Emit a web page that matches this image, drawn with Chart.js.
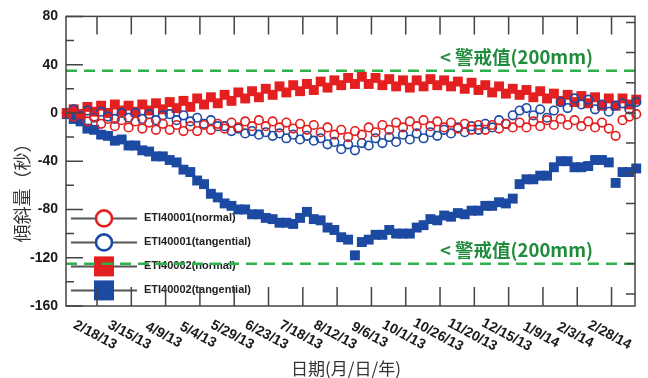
<!DOCTYPE html>
<html>
<head>
<meta charset="utf-8">
<script src="https://cdn.jsdelivr.net/npm/chart.js@4.4.1/dist/chart.umd.min.js"></script>
<style>
  body { margin: 0; background: #fff; }
  #tiltChart { display: block; }
</style>
</head>
<body>
<canvas id="tiltChart" width="648" height="378"></canvas>
<script>
// days counted from 2/18/13
const days = [-22,-17,-12,-7,-2,3,8,13,18,23,28,33,38,43,48,53,58,63,68,73,78,83,88,93,98,103,108,113,118,123,128,133,138,143,148,153,158,163,168,173,178,183,188,193,198,203,208,213,218,223,228,233,238,243,248,253,258,263,268,273,278,283,288,293,298,303,308,313,318,323,328,333,338,343,348,353,358,363,368,373,378,383,388,393];

const eti1Normal = [0,-3,-1,-7,-3,-9,-5,-11,-6,-12,-7,-13,-8,-14,-9,-14,-10,-15,-11,-15,-10,-14,-9,-13,-8,-12,-7,-11,-6,-11,-7,-12,-8,-13,-9,-14,-10,-16,-12,-18,-14,-20,-15,-18,-12,-16,-10,-14,-8,-12,-7,-11,-6,-11,-7,-12,-8,-13,-9,-14,-10,-14,-10,-13,-9,-12,-8,-12,-7,-11,-6,-10,-5,-10,-6,-11,-7,-12,-8,-13,-19,-6,-3,-1];
const eti1Tangential = [0,3,-2,2,-4,1,-3,-5,0,-4,0,-5,-1,-6,-2,-1,-6,-2,-7,-4,-9,-6,-11,-11,-15,-13,-17,-15,-18,-16,-19,-17,-21,-18,-22,-19,-23,-21,-26,-24,-30,-26,-31,-25,-27,-21,-25,-20,-24,-18,-22,-17,-21,-16,-19,-14,-17,-12,-16,-11,-14,-9,-12,-6,-9,-2,2,4,-2,3,-4,2,9,4,12,7,11,3,7,1,6,8,3,9];
const eti2Normal = [0,3,-1,5,1,6,0,7,2,6,1,7,2,8,3,9,4,10,5,12,7,13,8,15,10,17,12,18,13,20,15,22,17,23,18,24,19,26,21,27,23,29,24,30,24,29,23,28,22,27,21,27,22,28,23,27,22,26,20,25,19,23,17,22,16,20,15,19,13,18,12,16,10,15,9,14,8,13,6,12,6,12,7,11];
const eti2Tangential = [-1,-5,-7,-13,-14,-18,-19,-23,-22,-27,-27,-31,-32,-36,-36,-39,-41,-47,-49,-56,-59,-67,-70,-75,-77,-80,-80,-84,-84,-87,-88,-91,-91,-92,-87,-82,-88,-89,-95,-97,-103,-105,-118,-107,-105,-101,-101,-97,-100,-100,-100,-95,-93,-88,-89,-85,-86,-83,-84,-81,-81,-77,-77,-74,-75,-71,-59,-55,-55,-52,-52,-45,-40,-40,-45,-45,-44,-39,-39,-41,-58,-49,-49,-46];

const seriesNames = ['ETI40001(normal)', 'ETI40001(tangential)', 'ETI40002(normal)', 'ETI40002(tangential)'];
const tickDays = [0,25,50,75,100,125,150,175,200,225,250,275,300,325,350,375];
const tickLabels = ['2/18/13','3/15/13','4/9/13','5/4/13','5/29/13','6/23/13','7/18/13','8/12/13','9/6/13','10/1/13','10/26/13','11/20/13','12/15/13','1/9/14','2/3/14','2/28/14'];
const yTicks = [80,40,0,-40,-80,-120,-160];
const yMinorTicks = [60,20,-20,-60,-100,-140];
const rightTicks = [75,50,25,0,-25,-50,-75,-100,-125,-150];
const alarmLevels = [35, -125];
const alarmText = '< 警戒值(200mm)';
const xMin = -22.6, xMax = 392.1;

const RED = '#e41f1f', BLUE = '#1c4aa3', GREEN = '#2fb24c';
const latin = '"Liberation Sans", Arial, sans-serif';
const cjk = '"Noto Sans CJK TC", "Noto Sans CJK SC", sans-serif';

const pts = arr => arr.map((v, i) => ({ x: days[i], y: v }));

const alarmSets = alarmLevels.map(v => ({
  type: 'line', showLine: true, order: 0,
  data: [{ x: xMin, y: v }, { x: xMax, y: v }],
  borderColor: GREEN, borderWidth: 2.5, borderDash: [11, 7], pointRadius: 0
}));

const decor = {
  id: 'decor',
  beforeDatasetsDraw(chart) {
    const { ctx, chartArea: a } = chart;
    ctx.save();
    const styles = [
      { shape: 'circle', color: RED },
      { shape: 'circle', color: BLUE },
      { shape: 'square', color: RED },
      { shape: 'square', color: BLUE }
    ];
    styles.forEach((s, i) => {
      const cy = a.top + 202 + i * 24;
      ctx.strokeStyle = '#555'; ctx.lineWidth = 2;
      ctx.beginPath(); ctx.moveTo(a.left + 5, cy); ctx.lineTo(a.left + 71, cy); ctx.stroke();
      if (s.shape === 'circle') {
        ctx.fillStyle = '#fff';
        ctx.strokeStyle = s.color; ctx.lineWidth = 2.6;
        ctx.beginPath(); ctx.arc(a.left + 38, cy, 8, 0, Math.PI * 2); ctx.fill(); ctx.stroke();
      } else {
        ctx.fillStyle = s.color;
        ctx.fillRect(a.left + 28, cy - 10, 20, 20);
      }
      ctx.fillStyle = '#222';
      ctx.font = 'bold 11px ' + latin;
      ctx.textAlign = 'left'; ctx.textBaseline = 'middle';
      ctx.fillText(seriesNames[i], a.left + 78, cy);
    });
    ctx.restore();
  },
  afterDraw(chart) {
    const { ctx, chartArea: a, scales: { x, y } } = chart;
    ctx.save();
    ctx.strokeStyle = '#444'; ctx.lineWidth = 1.5;
    ctx.strokeRect(a.left, a.top, a.width, a.height);
    ctx.beginPath();
    tickDays.forEach(d => {
      const px = x.getPixelForValue(d);
      ctx.moveTo(px, a.bottom); ctx.lineTo(px, a.bottom - 19);
      ctx.moveTo(px, a.top); ctx.lineTo(px, a.top + 18);
    });
    yTicks.forEach(v => {
      const py = y.getPixelForValue(v);
      ctx.moveTo(a.left, py); ctx.lineTo(a.left + 17, py);
    });
    yMinorTicks.forEach(v => {
      const py = y.getPixelForValue(v);
      ctx.moveTo(a.left, py); ctx.lineTo(a.left + 8, py);
    });
    rightTicks.forEach(v => {
      const py = y.getPixelForValue(v);
      ctx.moveTo(a.right, py); ctx.lineTo(a.right - 9, py);
    });
    ctx.stroke();

    // rotated date labels
    ctx.fillStyle = '#1a1a1a';
    ctx.font = 'bold 14px ' + latin;
    ctx.textAlign = 'center'; ctx.textBaseline = 'middle';
    tickDays.forEach((d, i) => {
      ctx.save();
      ctx.translate(x.getPixelForValue(d) - 2, a.bottom + 29);
      ctx.rotate(28 * Math.PI / 180);
      ctx.fillText(tickLabels[i], 0, 0);
      ctx.restore();
    });

    // alarm labels
    ctx.fillStyle = '#1f8c3c';
    ctx.font = 'bold 18.5px ' + cjk;
    ctx.textAlign = 'left';
    alarmLevels.forEach(v => ctx.fillText(alarmText, a.left + 374, y.getPixelForValue(v) - 14));

    // axis titles
    ctx.fillStyle = '#333';
    ctx.font = '17px ' + cjk;
    ctx.textAlign = 'center';
    ctx.fillText('日期(月/日/年)', a.left + 280, a.bottom + 63);
    ctx.save();
    ctx.translate(22, a.top + 172);
    ctx.rotate(-Math.PI / 2);
    ctx.font = '18px ' + cjk;
    ctx.fillText('傾斜量（秒）', 0, 0);
    ctx.restore();
    ctx.restore();
  }
};

new Chart(document.getElementById('tiltChart'), {
  type: 'scatter',
  data: {
    datasets: [
      ...alarmSets,
      { label: seriesNames[0], data: pts(eti1Normal), order: 1, pointStyle: 'circle', pointRadius: 4.3,
        borderColor: RED, borderWidth: 1.6, backgroundColor: 'rgba(0,0,0,0)', clip: false },
      { label: seriesNames[1], data: pts(eti1Tangential), order: 2, pointStyle: 'circle', pointRadius: 4.3,
        borderColor: BLUE, borderWidth: 1.6, backgroundColor: 'rgba(0,0,0,0)', clip: false },
      { label: seriesNames[2], data: pts(eti2Normal), order: 3, pointStyle: 'rect', pointRadius: 7,
        borderWidth: 0, backgroundColor: RED, clip: false },
      { label: seriesNames[3], data: pts(eti2Tangential), order: 4, pointStyle: 'rect', pointRadius: 7,
        borderWidth: 0, backgroundColor: BLUE, clip: false }
    ]
  },
  options: {
    responsive: false,
    animation: false,
    layout: { padding: { top: 13, right: 13, left: 0, bottom: 0 } },
    plugins: { legend: { display: false }, tooltip: { enabled: false } },
    scales: {
      x: {
        type: 'linear', min: xMin, max: xMax,
        afterBuildTicks: s => { s.ticks = tickDays.map(v => ({ value: v })); },
        afterFit: s => { s.height = 72; },
        ticks: { display: false },
        grid: { display: false, drawTicks: false },
        border: { display: false }
      },
      y: {
        min: -160, max: 80,
        afterBuildTicks: s => { s.ticks = yTicks.map(v => ({ value: v })); },
        afterFit: s => { s.width = 66; },
        ticks: { font: { family: latin, size: 14, weight: 'bold' }, color: '#1a1a1a', padding: 8 },
        grid: { display: false, drawTicks: false },
        border: { display: false }
      }
    }
  },
  plugins: [decor]
});
</script>
</body>
</html>
